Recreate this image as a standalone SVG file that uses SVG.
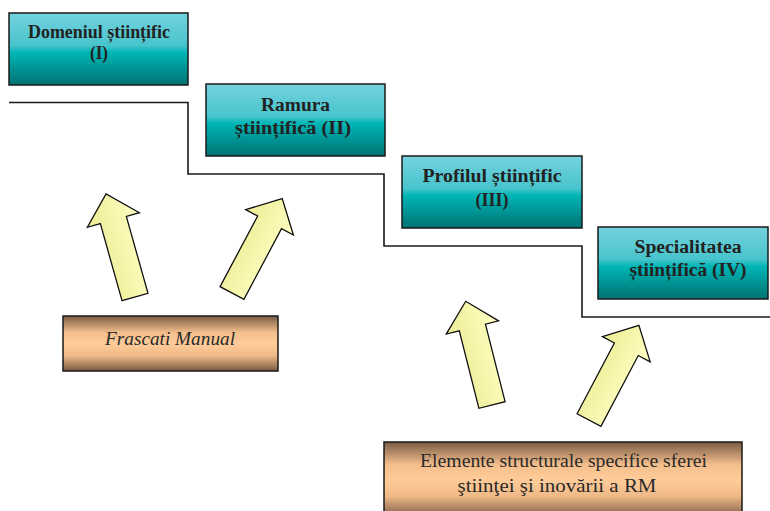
<svg xmlns="http://www.w3.org/2000/svg" width="770" height="511" viewBox="0 0 770 511">
<defs>
<linearGradient id="teal" x1="0" y1="0" x2="0" y2="1">
<stop offset="0" stop-color="#74d2df"/>
<stop offset="0.45" stop-color="#48c4cc"/>
<stop offset="0.55" stop-color="#00b5b5"/>
<stop offset="1" stop-color="#007272"/>
</linearGradient>
<linearGradient id="brown" x1="0" y1="0" x2="0" y2="1">
<stop offset="0" stop-color="#7a5b44"/>
<stop offset="0.3" stop-color="#f3be8c"/>
<stop offset="0.5" stop-color="#ffcc99"/>
<stop offset="0.72" stop-color="#f0ba88"/>
<stop offset="1" stop-color="#7a5b44"/>
</linearGradient>
<linearGradient id="yel" x1="0" y1="0" x2="1" y2="0">
<stop offset="0" stop-color="#ecec94"/>
<stop offset="1" stop-color="#ffffc4"/>
</linearGradient>
<path id="arr" d="M-13.5,0 L-13.5,-80 L-27,-80 L0,-107 L27,-80 L13.5,-80 L13.5,0 Z"/>
</defs>
<style>
.box{fill:url(#teal);stroke:#1a1a1a;stroke-width:1.5}
.bbox{fill:url(#brown);stroke:#1a1a1a;stroke-width:1.5}
text{font-family:'Liberation Serif','Times New Roman',serif;font-size:18px;text-anchor:middle}
.t{font-weight:bold;fill:#222}
.n{fill:#2a2a2a}
.step{fill:none;stroke:#1a1a1a;stroke-width:1.6}
.a{fill:url(#yel);stroke:#111;stroke-width:1.3;stroke-linejoin:miter}
</style>
<rect width="770" height="511" fill="#fff"/>
<g id="connectors">
<path class="step" d="M9,102.5 H188 V174 H384 V246 H582 V317 H770"/>
<use href="#arr" class="a" transform="translate(135,297) rotate(-15.7)"/>
<use href="#arr" class="a" transform="translate(232,293) rotate(28)"/>
<use href="#arr" class="a" transform="translate(492,405) rotate(-14.2)"/>
<use href="#arr" class="a" transform="translate(589,420) rotate(27.8)"/>
</g>
<g id="domeniul">
<rect class="box" x="9" y="13" width="179" height="72"/>
<text class="t" x="99" y="38" font-size="17" textLength="142" lengthAdjust="spacingAndGlyphs">Domeniul științific</text>
<text class="t" x="99" y="59" font-size="17" textLength="18" lengthAdjust="spacingAndGlyphs">(I)</text>
</g>
<g id="ramura">
<rect class="box" x="206" y="84" width="179" height="72"/>
<text class="t" x="295.5" y="110.5" textLength="69" lengthAdjust="spacingAndGlyphs">Ramura</text>
<text class="t" x="293" y="134" textLength="116" lengthAdjust="spacingAndGlyphs">științifică (II)</text>
</g>
<g id="profilul">
<rect class="box" x="402" y="156" width="180" height="72"/>
<text class="t" x="492" y="182" textLength="139" lengthAdjust="spacingAndGlyphs">Profilul științific</text>
<text class="t" x="492" y="205.5" textLength="33" lengthAdjust="spacingAndGlyphs">(III)</text>
</g>
<g id="specialitatea">
<rect class="box" x="598" y="227" width="170" height="72"/>
<text class="t" x="688" y="253" textLength="107" lengthAdjust="spacingAndGlyphs">Specialitatea</text>
<text class="t" x="688" y="275.5" textLength="117" lengthAdjust="spacingAndGlyphs">științifică (IV)</text>
</g>
<g id="frascati">
<rect class="bbox" x="63" y="316" width="215" height="55"/>
<text class="n" x="170" y="345" font-style="italic" textLength="130" lengthAdjust="spacingAndGlyphs">Frascati Manual</text>
</g>
<g id="elemente">
<rect class="bbox" x="384" y="442" width="358" height="75"/>
<text class="n" x="563.5" y="467" textLength="287" lengthAdjust="spacingAndGlyphs">Elemente structurale specifice sferei</text>
<text class="n" x="557" y="492" textLength="199" lengthAdjust="spacingAndGlyphs">ştiinţei şi inovării a RM</text>
</g>
</svg>
